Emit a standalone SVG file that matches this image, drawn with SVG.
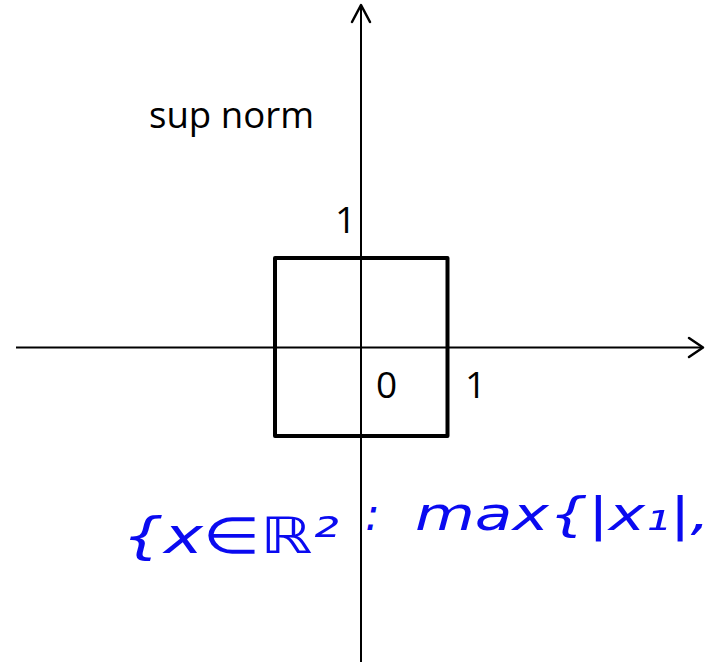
<svg xmlns="http://www.w3.org/2000/svg" width="705" height="662" viewBox="0 0 705 662">
<style>
.axis{stroke:#000;stroke-width:2;fill:none}
.head{stroke:#000;stroke-width:2.5;fill:none;stroke-linecap:round;stroke-linejoin:round}
.lbl{font-family:"Open Sans","Liberation Sans",sans-serif;fill:#000}
.hand{font-family:"DejaVu Sans","Liberation Sans",sans-serif;font-style:italic;fill:#0a0af0}
</style>
<rect width="705" height="662" fill="#fff"/>
<g id="axes">
<line class="axis" x1="16" y1="347.5" x2="703" y2="347.5"/>
<polyline class="head" points="689,338 703,347.5 689,357"/>
<line class="axis" x1="361" y1="662" x2="361" y2="5"/>
<polyline class="head" points="352,22 361,5 370,22"/>
</g>
<g id="square">
<rect x="275" y="258" width="172.5" height="178" fill="none" stroke="#000" stroke-width="4" stroke-linejoin="round"/>
</g>
<g id="labels">
<text class="lbl" x="149" y="128" font-size="37" textLength="165" lengthAdjust="spacingAndGlyphs">sup norm</text>
<text class="lbl" x="335" y="233" font-size="37">1</text>
<text class="lbl" x="376" y="398" font-size="37">0</text>
<text class="lbl" x="465" y="398" font-size="37">1</text>
</g>
<g id="handwriting">
<text class="hand" x="122" y="553" font-size="50" textLength="217" lengthAdjust="spacingAndGlyphs">{x∈ℝ²</text>
<text class="hand" x="365" y="530" font-size="44">:</text>
<text class="hand" x="415" y="530" font-size="46" textLength="295" lengthAdjust="spacingAndGlyphs">max{|x₁|,</text>
</g>
</svg>
